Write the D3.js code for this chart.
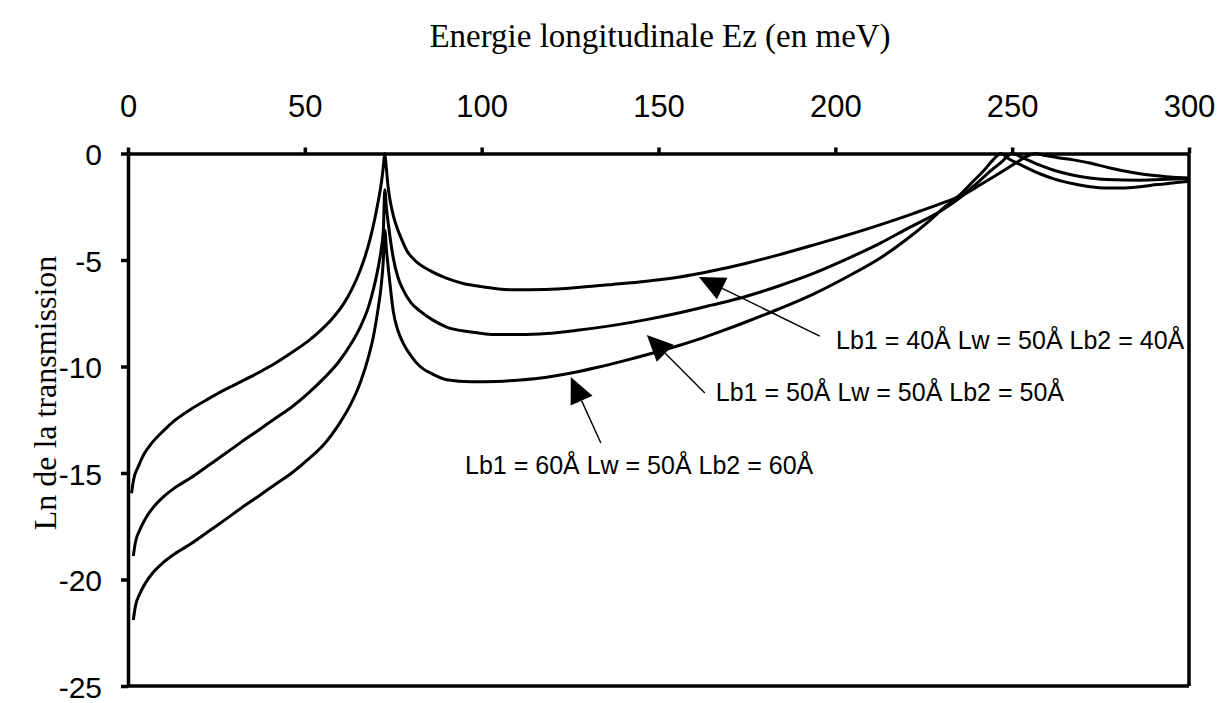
<!DOCTYPE html>
<html>
<head>
<meta charset="utf-8">
<script src="https://cdn.jsdelivr.net/npm/d3@7"></script>
<style>
  html, body { margin: 0; padding: 0; background: #fff; }
  svg { display: block; }
</style>
</head>
<body>
<svg id="chart" width="1228" height="703"></svg>
<script>
// ---------- data ----------
const xTickValues = [0, 50, 100, 150, 200, 250, 300];
const yTickValues = [0, -5, -10, -15, -20, -25];
const xTitle = "Energie longitudinale Ez (en meV)";
const yTitle = "Ln de la transmission";
const seriesNames = ["Lb1 = 40Å Lw = 50Å Lb2 = 40Å", "Lb1 = 50Å Lw = 50Å Lb2 = 50Å", "Lb1 = 60Å Lw = 50Å Lb2 = 60Å"];

// Series A : Lb1 = 40 Å
const energyA = [1.0, 1.6, 2.9, 4.5, 6.7, 10, 13.3, 18, 22.7, 27, 32.1, 37, 41.6, 46, 51, 55, 57.6, 61, 63.2, 65.5, 67, 68.5, 69.8, 70.8, 71.7, 72.2, 72.6, 73.0, 73.5, 74.1, 75, 76, 77.3, 78.8, 81, 85.4, 90, 94.8, 100, 108.9, 118, 127.8, 137, 146.6, 156, 165, 174.9, 184, 193.8, 203, 212.6, 222, 231.5, 236, 241, 246.5, 251, 254, 256.5, 259, 263, 267.3, 272, 276.7, 281, 286.1, 291, 295.5, 300];
const lnTA = [-15.95, -15.3, -14.7, -14.12, -13.6, -13.02, -12.52, -11.98, -11.52, -11.12, -10.7, -10.28, -9.85, -9.38, -8.8, -8.22, -7.78, -7.05, -6.4, -5.55, -4.85, -3.98, -3.05, -2.2, -1.3, -0.6, 0, -0.6, -1.5, -2.2, -2.9, -3.45, -4.0, -4.55, -5.0, -5.5, -5.85, -6.1, -6.25, -6.4, -6.38, -6.28, -6.15, -6.0, -5.8, -5.52, -5.15, -4.76, -4.3, -3.85, -3.35, -2.82, -2.25, -1.95, -1.47, -0.92, -0.45, -0.15, 0, -0.08, -0.2, -0.3, -0.45, -0.64, -0.8, -0.95, -1.05, -1.12, -1.15];

// Series B : Lb1 = 50 Å
const energyB = [1.5, 2.1, 3.4, 5, 7.2, 10, 13, 18, 22.7, 27.4, 32, 36.8, 41.5, 46.3, 51, 55.7, 59.5, 63.2, 65.8, 68, 69.5, 70.8, 71.6, 72.2, 72.6, 73.1, 73.6, 75, 76.3, 77.8, 80, 82.6, 86, 90.1, 97, 104.2, 111, 118.4, 127, 137.2, 146.6, 156, 165, 174.9, 184, 193.8, 203, 212.6, 221, 229.8, 235.5, 240, 244, 247, 250, 253, 257.8, 262, 267.3, 272, 276.7, 286.1, 295.5, 300];
const lnTB = [-18.9, -18.25, -17.65, -17.12, -16.6, -16.12, -15.72, -15.2, -14.65, -14.1, -13.55, -13.0, -12.45, -11.9, -11.25, -10.5, -9.8, -8.9, -8.1, -7.2, -6.3, -5.3, -4.5, -3.6, -1.7, -2.6, -3.3, -4.9, -5.8, -6.4, -7.0, -7.4, -7.8, -8.15, -8.38, -8.5, -8.5, -8.45, -8.3, -8.07, -7.8, -7.48, -7.12, -6.7, -6.22, -5.63, -4.97, -4.22, -3.47, -2.7, -2.05, -1.4, -0.8, -0.4, 0, -0.2, -0.55, -0.8, -1.02, -1.15, -1.22, -1.25, -1.2, -1.18];

// Series C : Lb1 = 60 Å
const energyC = [1.5, 2.1, 3.4, 5, 7.2, 10, 13, 18, 22.7, 27.4, 32, 36.8, 41.5, 46.3, 51, 55.7, 59.5, 63.2, 65.8, 68, 69.5, 70.8, 71.6, 72.2, 72.6, 73.1, 74, 75, 76.3, 77.8, 80, 82.6, 86, 90.1, 97, 104.2, 111, 118.4, 125, 132.5, 141, 149.5, 156, 161.7, 168, 174.9, 184, 193.8, 203, 212.6, 220, 227, 231, 235.5, 239, 242, 244.6, 246.8, 249, 252, 257.8, 262, 267.3, 272, 276.7, 281, 286.1, 291, 295.5, 300];
const lnTC = [-21.9, -21.25, -20.65, -20.15, -19.65, -19.2, -18.82, -18.3, -17.75, -17.2, -16.65, -16.1, -15.55, -15.0, -14.35, -13.6, -12.75, -11.7, -10.7, -9.55, -8.5, -7.2, -6.2, -5.0, -3.6, -4.55, -6.0, -7.4, -8.3, -8.9, -9.5, -10.0, -10.35, -10.62, -10.72, -10.7, -10.63, -10.5, -10.32, -10.05, -9.7, -9.32, -9.0, -8.7, -8.33, -7.9, -7.3, -6.6, -5.82, -4.92, -4.05, -3.1, -2.5, -1.9, -1.3, -0.8, -0.3, 0, -0.25, -0.5, -0.95, -1.2, -1.42, -1.56, -1.62, -1.62, -1.56, -1.46, -1.38, -1.32];

// annotation anchors (data units): label start, arrow tip, arrow tail
const labelEnergy = [200.2, 166.2, 95.3];
const labelLnT = [-9.17, -11.6, -15.06];
const arrowTipEnergy = [161.4, 146.7, 125.2];
const arrowTipLnT = [-5.8, -8.52, -10.49];
const arrowTailEnergy = [195.6, 163.1, 133.7];
const arrowTailLnT = [-8.57, -11.24, -13.59];

// ---------- layout ----------
const svg = d3.select("#chart");
const plotLeft = 128, plotRight = 1189, plotTop = 153.5, plotBottom = 686;

const x = d3.scaleLinear().domain([0, 300]).range([plotLeft, plotRight]);
const y = d3.scaleLinear().domain([-25, 0]).range([plotBottom, plotTop]);

svg.append("rect").attr("width", 1228).attr("height", 703).attr("fill", "#fff");

// frame (right and bottom)
svg.append("line").attr("x1", x(300)).attr("x2", x(300)).attr("y1", y(0)).attr("y2", y(-25))
  .attr("stroke", "#000").attr("stroke-width", 3.5);
svg.append("line").attr("x1", x(0)).attr("x2", x(300)).attr("y1", y(-25)).attr("y2", y(-25))
  .attr("stroke", "#000").attr("stroke-width", 3.5);

// curves
const line = d3.line().x(d => x(d[0])).y(d => y(d[1])).curve(d3.curveMonotoneX);
const series = [
  d3.zip(energyA, lnTA),
  d3.zip(energyB, lnTB),
  d3.zip(energyC, lnTC)
];
svg.append("g").selectAll("path").data(series).join("path")
  .attr("d", line)
  .attr("fill", "none")
  .attr("stroke", "#000")
  .attr("stroke-width", 3)
  .attr("stroke-linejoin", "round");

// axes
const xAxis = svg.append("g").attr("transform", `translate(0,${plotTop})`)
  .call(d3.axisTop(x).tickValues(xTickValues).tickSize(6).tickPadding(31).tickSizeOuter(0).tickFormat(d3.format("d")));
const yAxis = svg.append("g").attr("transform", `translate(${plotLeft},0)`)
  .call(d3.axisLeft(y).tickValues(yTickValues).tickSize(7).tickPadding(19).tickSizeOuter(0).tickFormat(d => d === 0 ? "0" : "-" + Math.abs(d)));

[xAxis, yAxis].forEach(g => {
  g.select(".domain").attr("stroke", "#000").attr("stroke-width", 3.5);
  g.selectAll(".tick line").attr("stroke", "#000").attr("stroke-width", 3.5);
  g.selectAll(".tick text").attr("fill", "#000")
    .style("font-family", "'Liberation Sans', Arial, sans-serif").style("font-size", "30px");
});
xAxis.selectAll(".tick text").style("font-size", "31px");
yAxis.selectAll(".tick text").attr("dy", "0.38em");

// titles
svg.append("text").attr("x", 660).attr("y", 47).attr("text-anchor", "middle")
  .style("font-family", "'Liberation Serif', 'Times New Roman', serif").style("font-size", "33px")
  .text(xTitle);
svg.append("text").attr("transform", `translate(56,${393}) rotate(-90)`).attr("text-anchor", "middle")
  .style("font-family", "'Liberation Serif', 'Times New Roman', serif").style("font-size", "32px")
  .text(yTitle);

// annotations
const ann = svg.append("g");
seriesNames.forEach((name, i) => {
  const tx = x(arrowTipEnergy[i]), ty = y(arrowTipLnT[i]);
  const sx = x(arrowTailEnergy[i]), sy = y(arrowTailLnT[i]);
  const dx = tx - sx, dy = ty - sy, len = Math.hypot(dx, dy);
  const ux = dx / len, uy = dy / len;
  const headLen = 26, headHalf = 12;
  const bx = tx - ux * headLen, by = ty - uy * headLen;
  ann.append("line").attr("x1", sx).attr("y1", sy).attr("x2", bx).attr("y2", by)
    .attr("stroke", "#000").attr("stroke-width", 1.4);
  ann.append("path")
    .attr("d", `M${tx},${ty}L${bx - uy * headHalf},${by + ux * headHalf}L${bx + uy * headHalf},${by - ux * headHalf}Z`)
    .attr("fill", "#000");
  ann.append("text").attr("x", x(labelEnergy[i])).attr("y", y(labelLnT[i]))
    .style("font-family", "'Liberation Sans', Arial, sans-serif").style("font-size", "25px")
    .text(name);
});
</script>
</body>
</html>
